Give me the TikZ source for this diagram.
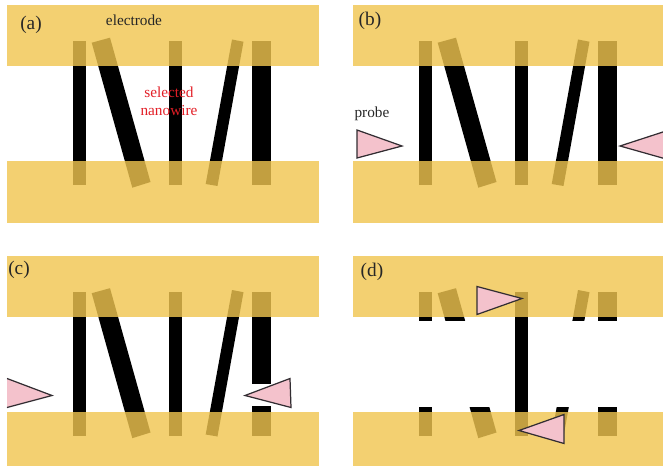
\documentclass[tikz,border=0pt]{standalone}
\usepackage{fontspec}
\setmainfont{Liberation Serif}
\definecolor{goldband}{RGB}{240,197,80}
\definecolor{probepink}{RGB}{244,194,204}
\definecolor{probeline}{RGB}{50,45,50}
\definecolor{labelred}{RGB}{226,30,38}
\newcommand{\nanowires}{%
  \fill[black] (73,41) rectangle (86,185);
  \fill[black] (91.7,42.7) -- (110,37.7) -- (150.5,182) -- (132.3,187.7) -- cycle;
  \fill[black] (169,41) rectangle (182,185);
  \fill[black] (232,39.5) -- (243.5,41.7) -- (217.5,186) -- (205.7,184) -- cycle;
  \fill[black] (252,41) rectangle (271,185);
}
\newcommand{\electrodes}{%
  \fill[goldband,fill opacity=0.81] (7,5) rectangle (319,66);
  \fill[goldband,fill opacity=0.81] (7,161) rectangle (319,223);
}
\begin{document}
\begin{tikzpicture}[x=0.02cm, y=-0.02cm, line join=miter,
    probetip/.style={fill=probepink, draw=probeline, line width=0.7pt},
    panellabel/.style={font=\fontsize{11}{12}\selectfont, text=black!85, inner sep=0pt},
    smalllabel/.style={font=\fontsize{8.7}{10.4}\selectfont, text=black!85, inner sep=0pt, align=center}]
\path[use as bounding box, clip] (0,0) rectangle (663,466);

% ---------- Panel a ----------
\begin{scope}[shift={(0,0)}]
  \nanowires
  \electrodes
  \node[panellabel] (labela) at (31,25) {(a)};
  \node[smalllabel] (electrode) at (134,20) {electrode};
  \node[smalllabel,text=labelred] (selected) at (169,101) {selected\\nanowire};
\end{scope}

% ---------- Panel b ----------
\begin{scope}[shift={(346,0)}]
  \nanowires
  \electrodes
  \draw[probetip] (11,130) -- (56,146) -- (11,158) -- cycle;
  \draw[probetip] (320,131) -- (274,146) -- (320,159);
  \node[panellabel] (labelb) at (24,21) {(b)};
  \node[smalllabel] (probe) at (26,114) {probe};
\end{scope}

% ---------- Panel c ----------
\begin{scope}[shift={(0,250.5)}]
  \nanowires
  \fill[white] (250,133) rectangle (273,155);
  \electrodes
  \draw[probetip] (7,128) -- (52,145) -- (7,157);
  \draw[probetip] (290,128) -- (245,145) -- (291,157) -- cycle;
  \node[panellabel] (labelc) at (19,19) {(c)};
\end{scope}

% ---------- Panel d ----------
\begin{scope}[shift={(346,250.5)}]
  \nanowires
  \fill[white] (60,70) rectangle (280,156.5);
  \fill[black] (169,60) rectangle (182,165);
  \electrodes
  \draw[probetip] (131,36) -- (176,48) -- (131,64) -- cycle;
  \draw[probetip] (173,180) -- (218,164) -- (218,193) -- cycle;
  \node[panellabel] (labeld) at (26,21) {(d)};
\end{scope}

\end{tikzpicture}
\end{document}
